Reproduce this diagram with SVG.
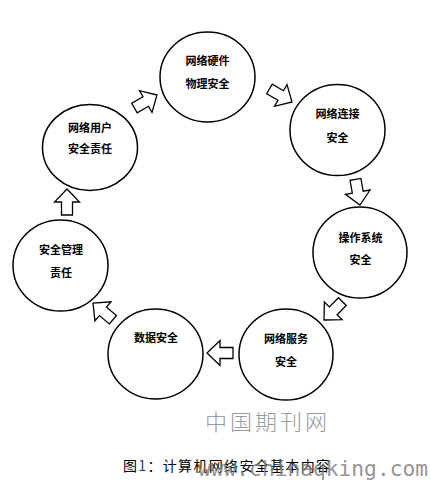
<svg xmlns="http://www.w3.org/2000/svg" width="431" height="480" viewBox="0 0 431 480">
<style>
.node ellipse{fill:#fff;stroke:#000;stroke-width:1.5}
.node text{font-family:"Noto Sans CJK SC","Noto Sans CJK JP",sans-serif;font-size:11px;font-weight:bold;fill:#000;text-anchor:middle;dominant-baseline:central}
.arrow{fill:#fff;stroke:#000;stroke-width:1.3;stroke-linejoin:miter}
.caption{font-family:"Noto Sans CJK SC",sans-serif;font-size:14px;fill:#000}
.wm1{font-family:"Noto Sans CJK SC",sans-serif;font-weight:300;font-size:22px;fill:#9a9a9a}
.wm2{font-family:"DejaVu Sans Mono","Liberation Mono",monospace;font-size:21px;fill:#808080;fill-opacity:0.85}
</style>
<defs>
<polygon id="blk" points="0,0 -13,-12.5 -13,-5.5 -26,-5.5 -26,5.5 -13,5.5 -13,12.5"/>
</defs>
<rect width="431" height="480" fill="#fff"/>
<g id="connectors">
<use href="#blk" class="arrow" transform="translate(157,95) rotate(-30)"/>
<use href="#blk" class="arrow" transform="translate(292,102) rotate(30)"/>
<use href="#blk" class="arrow" transform="translate(360,205) rotate(80)"/>
<use href="#blk" class="arrow" transform="translate(324,320) rotate(135)"/>
<use href="#blk" class="arrow" transform="translate(207,353) rotate(180)"/>
<use href="#blk" class="arrow" transform="translate(93,303) rotate(220)"/>
<use href="#blk" class="arrow" transform="translate(67,189) rotate(-90)"/>
</g>
<g id="n-hardware" class="node">
<ellipse cx="207.5" cy="77" rx="47.5" ry="45"/>
<text x="207.5" y="60">网络硬件</text>
<text x="207.5" y="83">物理安全</text>
</g>
<g id="n-connect" class="node">
<ellipse cx="337.5" cy="130" rx="47.5" ry="45.5"/>
<text x="337.5" y="113">网络连接</text>
<text x="337.5" y="137">安全</text>
</g>
<g id="n-os" class="node">
<ellipse cx="360" cy="252.5" rx="47" ry="45.5"/>
<text x="360.5" y="237">操作系统</text>
<text x="360.5" y="259">安全</text>
</g>
<g id="n-service" class="node">
<ellipse cx="286" cy="354.5" rx="47" ry="45.5"/>
<text x="286" y="338">网络服务</text>
<text x="286" y="361">安全</text>
</g>
<g id="n-data" class="node">
<ellipse cx="155.5" cy="354" rx="47.5" ry="45"/>
<text x="156" y="337">数据安全</text>
</g>
<g id="n-mgmt" class="node">
<ellipse cx="60.5" cy="265.5" rx="47.5" ry="45.5"/>
<text x="61" y="249">安全管理</text>
<text x="61" y="272">责任</text>
</g>
<g id="n-user" class="node">
<ellipse cx="90" cy="147.5" rx="47.5" ry="43"/>
<text x="90" y="127">网络用户</text>
<text x="90" y="148">安全责任</text>
</g>
<text class="wm1" x="205" y="430" textLength="122" lengthAdjust="spacing">中国期刊网</text>
<text class="caption" x="123" y="471" textLength="207" lengthAdjust="spacing">图<tspan fill="#1a3a8a">1</tspan>：计算机网络安全基本内容</text>
<text class="wm2" x="198" y="476" textLength="230" lengthAdjust="spacingAndGlyphs">www.chinaqking.com</text>
</svg>
